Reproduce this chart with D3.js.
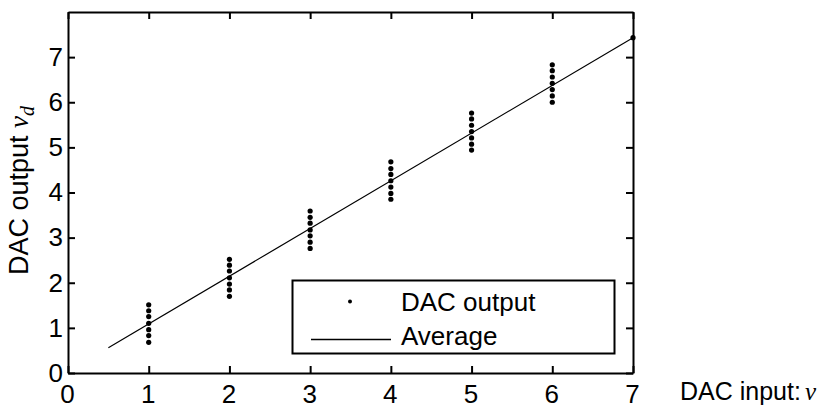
<!DOCTYPE html>
<html>
<head>
<meta charset="utf-8">
<script src="https://cdn.jsdelivr.net/npm/d3@7"></script>
<style>
  body { margin: 0; background: #fff; }
  text { font-family: "Liberation Sans", Arial, sans-serif; fill: #000; }
  .serif { font-family: "Liberation Serif", "Times New Roman", serif; font-style: italic; }
</style>
</head>
<body>
<script>
var dacInputs = [1, 2, 3, 4, 5, 6, 7];
var dacOutputs = [
  [1.51, 1.38, 1.25, 1.10, 0.96, 0.83, 0.68],
  [2.52, 2.39, 2.26, 2.11, 1.97, 1.84, 1.70],
  [3.59, 3.45, 3.32, 3.17, 3.04, 2.90, 2.76],
  [4.68, 4.53, 4.40, 4.26, 4.12, 3.98, 3.85],
  [5.76, 5.63, 5.49, 5.35, 5.21, 5.07, 4.94],
  [6.83, 6.70, 6.56, 6.42, 6.28, 6.14, 6.00],
  [7.43]
];
// average line end points
var avgX = [0.5, 7];
var avgY = [0.56, 7.43];

var xTicks = [0, 1, 2, 3, 4, 5, 6, 7];
var yTicks = [0, 1, 2, 3, 4, 5, 6, 7];

var width = 821, height = 411;

var svg = d3.select("body").append("svg")
  .attr("width", width)
  .attr("height", height);

var x = d3.scaleLinear().domain([0, 7]).range([68, 633]);
var y = d3.scaleLinear().domain([0, 8]).range([373, 12]);

// flatten points
var points = [];
for (var i = 0; i < dacInputs.length; i++) {
  for (var j = 0; j < dacOutputs[i].length; j++) {
    points.push({ v: dacInputs[i], vd: dacOutputs[i][j] });
  }
}

// average line
var line = d3.line()
  .x(function (d) { return x(d[0]); })
  .y(function (d) { return y(d[1]); });

svg.append("path")
  .datum(avgX.map(function (d, i) { return [d, avgY[i]]; }))
  .attr("d", line)
  .attr("fill", "none")
  .attr("stroke", "#000")
  .attr("stroke-width", 1.2);

// axes: box with inward ticks on all sides
var fmt = d3.format("d");
var gx = svg.append("g").attr("transform", "translate(0,373)")
  .call(d3.axisBottom(x).tickValues(xTicks).tickFormat(fmt).tickSizeInner(-7).tickSizeOuter(0).tickPadding(12));
var gxTop = svg.append("g").attr("transform", "translate(0,12)")
  .call(d3.axisTop(x).tickValues(xTicks).tickSizeInner(-7).tickSizeOuter(0).tickFormat(""));
var gy = svg.append("g").attr("transform", "translate(68,0)")
  .call(d3.axisLeft(y).tickValues(yTicks).tickFormat(fmt).tickSizeInner(-7).tickSizeOuter(0).tickPadding(5));
var gyRight = svg.append("g").attr("transform", "translate(633,0)")
  .call(d3.axisRight(y).tickValues(yTicks).tickSizeInner(-7).tickSizeOuter(0).tickFormat(""));

[gx, gxTop, gy, gyRight].forEach(function (g) {
  g.select(".domain").attr("stroke", "#000").attr("stroke-width", 2);
  g.selectAll(".tick line").attr("stroke", "#000").attr("stroke-width", 2);
  g.selectAll(".tick text")
    .style("font-family", "'Liberation Sans', Arial, sans-serif")
    .style("font-size", "26px")
    .attr("fill", "#000");
});
gx.selectAll(".tick text").attr("dx", -1);

// data points drawn on top of the frame
svg.selectAll("circle.pt")
  .data(points)
  .enter()
  .append("circle")
  .attr("class", "pt")
  .attr("cx", function (d) { return x(d.v); })
  .attr("cy", function (d) { return y(d.vd); })
  .attr("r", 2.6)
  .attr("fill", "#000");

// axis labels
var xl = svg.append("text")
  .attr("x", 680)
  .attr("y", 400)
  .style("font-size", "25px");
xl.append("tspan").text("DAC input:");
xl.append("tspan").attr("class", "serif").attr("dx", 4).text("v");

var yl = svg.append("text")
  .attr("transform", "translate(28,275) rotate(-90)")
  .style("font-size", "27px");
yl.append("tspan").text("DAC output ");
yl.append("tspan").attr("class", "serif").text("v");
yl.append("tspan").attr("class", "serif").attr("dy", 6).style("font-size", "20px").text("d");

// legend
var lg = svg.append("g");
lg.append("rect")
  .attr("x", 292.5).attr("y", 280.5)
  .attr("width", 322).attr("height", 73)
  .attr("fill", "#fff")
  .attr("stroke", "#000")
  .attr("stroke-width", 2);
lg.append("circle")
  .attr("cx", 350).attr("cy", 301.5).attr("r", 2)
  .attr("fill", "#000");
lg.append("line")
  .attr("x1", 311).attr("x2", 391)
  .attr("y1", 339.5).attr("y2", 339.5)
  .attr("stroke", "#000").attr("stroke-width", 1.3);
lg.append("text").attr("x", 401).attr("y", 311).style("font-size", "26px").text("DAC output");
lg.append("text").attr("x", 401).attr("y", 345).style("font-size", "26px").text("Average");
</script>
</body>
</html>
